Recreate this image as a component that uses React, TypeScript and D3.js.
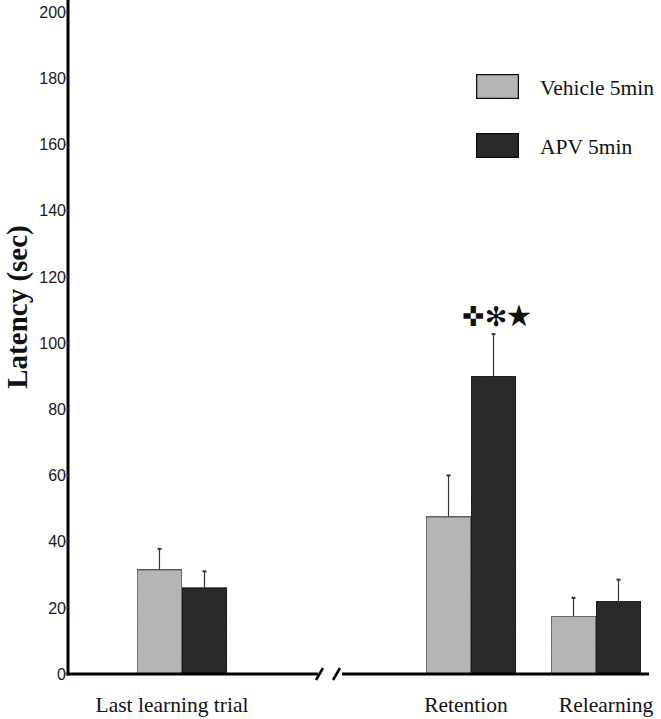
import React from "react";
import * as d3 from "d3";

const categories = ["Last learning trial", "Retention", "Relearning"];
const series = ["Vehicle 5min", "APV 5min"];
const vehicleMeans = [31.5, 47.5, 17.5];
const vehicleErr = [6.3, 12.5, 5.5];
const apvMeans = [26, 90, 22];
const apvErr = [5, 12.7, 6.5];
const yTicks = [0, 20, 40, 60, 80, 100, 120, 140, 160, 180, 200];
const sigSymbols = ["✜", "✻", "★"];

const W = 661;
const H = 719;

export default function App() {
  const y = d3.scaleLinear().domain([0, 200]).range([674, 12]);
  const xGroup = d3.scaleOrdinal<string, number>().domain(categories).range([182, 471, 596]);
  const xSeries = d3.scaleBand<string>().domain(series).range([-45, 45]).padding(0);
  const fills = ["#bcbcbc", "#2c2c2c"];
  const strokes = ["#444", "#111"];
  const means = [vehicleMeans, apvMeans];
  const errs = [vehicleErr, apvErr];
  const axisX = 68;
  const baseY = y(0);

  return (
    <svg width={W} height={H} style={{ position: "absolute", left: 0, top: 0, background: "#fff" }}>
      <defs>
        <filter id="grain" x="0" y="0" width="100%" height="100%">
          <feTurbulence type="fractalNoise" baseFrequency="0.9" numOctaves="1" seed="3" result="n" />
          <feColorMatrix in="n" type="matrix" values="0 0 0 0 0.5  0 0 0 0 0.5  0 0 0 0 0.5  0 0 0 0.35 0" result="g" />
          <feComposite in="g" in2="SourceGraphic" operator="in" result="gi" />
          <feBlend in="SourceGraphic" in2="gi" mode="multiply" />
        </filter>
      </defs>

      {/* bars */}
      {series.map((s, si) =>
        categories.map((c, ci) => {
          const x0 = xGroup(c) + (xSeries(s) as number);
          const bw = xSeries.bandwidth();
          const v = means[si][ci];
          const top = y(v);
          const et = y(v + errs[si][ci]);
          const cx = x0 + bw / 2;
          return (
            <g key={s + c}>
              <line x1={cx} x2={cx} y1={top} y2={et} stroke="#333" strokeWidth={1.2} />
              <line x1={cx - 2} x2={cx + 2} y1={et} y2={et} stroke="#333" strokeWidth={2} />
              <rect x={x0} y={top} width={bw} height={baseY - top} fill={fills[si]} stroke={strokes[si]} strokeWidth={1.2} filter="url(#grain)" />
            </g>
          );
        })
      )}

      {/* significance symbols */}
      {sigSymbols.map((sym, i) => (
        <text key={i} x={xGroup("Retention") + 2 + i * 23} y={y(105.5) + 1} textAnchor="middle" fontFamily="DejaVu Sans" fontSize={i === 2 ? 30 : 27} fill="#111">
          {sym}
        </text>
      ))}

      {/* y axis */}
      <line x1={axisX} x2={axisX} y1={0} y2={baseY + 1.5} stroke="#000" strokeWidth={3} />
      {yTicks.map((t) => (
        <g key={t}>
          <line x1={axisX - 3} x2={axisX} y1={y(t)} y2={y(t)} stroke="#666" strokeWidth={1} />
          <text x={axisX - 2} y={y(t)} dy="0.36em" textAnchor="end" fontFamily="Liberation Sans, Arial" fontSize={16} fill="#1a1a1a">
            {t}
          </text>
        </g>
      ))}

      {/* x axis with break */}
      <line x1={axisX - 1.5} x2={318} y1={baseY} y2={baseY} stroke="#000" strokeWidth={3} />
      <line x1={342} x2={649} y1={baseY} y2={baseY} stroke="#000" strokeWidth={3} />
      <line x1={316} x2={323} y1={baseY + 6} y2={baseY - 6} stroke="#000" strokeWidth={2.5} />
      <line x1={333} x2={340} y1={baseY + 6} y2={baseY - 6} stroke="#000" strokeWidth={2.5} />

      {/* x labels */}
      {categories.map((c, i) => (
        <text key={c} x={[172, 466, 606][i]} y={712} textAnchor="middle" fontFamily="Liberation Serif, Times New Roman" fontSize={21.5} fill="#111">
          {c}
        </text>
      ))}

      {/* y label */}
      <text transform={`translate(27,307) rotate(-90)`} textAnchor="middle" fontFamily="Liberation Serif, Times New Roman" fontWeight="bold" fontSize={29} fill="#111">
        Latency (sec)
      </text>

      {/* legend */}
      {series.map((s, i) => (
        <g key={s} transform={`translate(476,${74 + i * 59})`}>
          <rect x={0} y={0} width={43} height={25} fill={fills[i]} stroke="#111" strokeWidth={2.5} filter="url(#grain)" />
          <text x={64} y={13} dy="0.35em" fontFamily="Liberation Serif, Times New Roman" fontSize={21.5} fill="#111">
            {s}
          </text>
        </g>
      ))}
    </svg>
  );
}
